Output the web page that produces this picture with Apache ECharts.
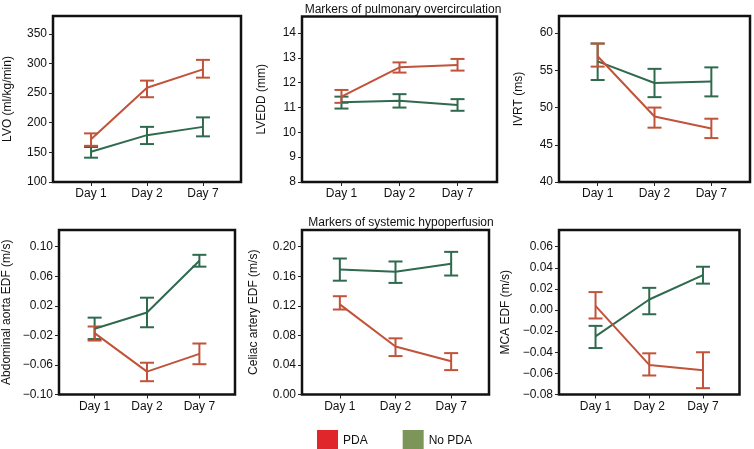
<!DOCTYPE html>
<html>
<head>
<meta charset="utf-8">
<script src="https://cdn.jsdelivr.net/npm/echarts@6/dist/echarts.min.js"></script>
<style>
  html,body{margin:0;padding:0;background:#fff;}
  #main{width:754px;height:449px;}
</style>
</head>
<body>
<div id="main"></div>
<script>
var days = ['Day 1', 'Day 2', 'Day 7'];

// LVO (ml/kg/min)
var lvoPda = [172, 259, 290];
var lvoPdaLo = [161, 243, 276];
var lvoPdaHi = [182, 271, 306];
var lvoNo = [151, 179, 193];
var lvoNoLo = [141, 164, 177];
var lvoNoHi = [159, 193, 209];
var lvoTicks = [100, 150, 200, 250, 300, 350];

// LVEDD (mm)
var lveddPda = [11.44, 12.62, 12.72];
var lveddPdaLo = [11.19, 12.41, 12.49];
var lveddPdaHi = [11.71, 12.82, 12.96];
var lveddNo = [11.21, 11.27, 11.10];
var lveddNoLo = [10.96, 11.00, 10.87];
var lveddNoHi = [11.44, 11.54, 11.34];
var lveddTicks = [8, 9, 10, 11, 12, 13, 14];

// IVRT (ms)
var ivrtPda = [56.9, 48.8, 47.2];
var ivrtPdaLo = [55.5, 47.3, 45.9];
var ivrtPdaHi = [58.6, 50.0, 48.5];
var ivrtNo = [56.2, 53.3, 53.5];
var ivrtNoLo = [53.7, 51.4, 51.5];
var ivrtNoHi = [58.6, 55.2, 55.4];
var ivrtTicks = [40, 45, 50, 55, 60];

// Abdominal aorta EDF (m/s)
var aortaPda = [-0.017, -0.069, -0.045];
var aortaPdaLo = [-0.027, -0.082, -0.059];
var aortaPdaHi = [-0.008, -0.057, -0.031];
var aortaNo = [-0.011, 0.011, 0.081];
var aortaNoLo = [-0.025, -0.009, 0.073];
var aortaNoHi = [0.004, 0.031, 0.089];
var aortaTicks = [-0.10, -0.06, -0.02, 0.02, 0.06, 0.10];

// Celiac artery EDF (m/s)
var celiacPda = [0.122, 0.065, 0.045];
var celiacPdaLo = [0.115, 0.052, 0.033];
var celiacPdaHi = [0.133, 0.076, 0.056];
var celiacNo = [0.169, 0.166, 0.177];
var celiacNoLo = [0.154, 0.151, 0.161];
var celiacNoHi = [0.184, 0.180, 0.193];
var celiacTicks = [0.00, 0.04, 0.08, 0.12, 0.16, 0.20];

// MCA EDF (m/s)
var mcaPda = [0.004, -0.052, -0.057];
var mcaPdaLo = [-0.008, -0.062, -0.074];
var mcaPdaHi = [0.017, -0.041, -0.040];
var mcaNo = [-0.025, 0.010, 0.033];
var mcaNoLo = [-0.036, -0.004, 0.025];
var mcaNoHi = [-0.015, 0.021, 0.041];
var mcaTicks = [-0.08, -0.06, -0.04, -0.02, 0.00, 0.02, 0.04, 0.06];

var redLine = '#c1533a', greenLine = '#2f6a4e';
var font = 'Liberation Sans, Arial, Helvetica, sans-serif';

var panels = [
  {name: 'LVO (ml/kg/min)', pda: [lvoPda, lvoPdaLo, lvoPdaHi], no: [lvoNo, lvoNoLo, lvoNoHi], ticks: lvoTicks, min: 100, max: 380, dec: 0,
    grid: {left: 53, top: 16, width: 188, height: 166}, gap: 39},
  {name: 'LVEDD (mm)', pda: [lveddPda, lveddPdaLo, lveddPdaHi], no: [lveddNo, lveddNoLo, lveddNoHi], ticks: lveddTicks, min: 8, max: 14.67, dec: 0,
    grid: {left: 302, top: 16.5, width: 195, height: 165.5}, gap: 34},
  {name: 'IVRT (ms)', pda: [ivrtPda, ivrtPdaLo, ivrtPdaHi], no: [ivrtNo, ivrtNoLo, ivrtNoHi], ticks: ivrtTicks, min: 40, max: 62.3, dec: 0,
    grid: {left: 559, top: 16, width: 191, height: 166}, gap: 34},
  {name: 'Abdominal aorta EDF (m/s)', pda: [aortaPda, aortaPdaLo, aortaPdaHi], no: [aortaNo, aortaNoLo, aortaNoHi], ticks: aortaTicks, min: -0.10, max: 0.1226, dec: 2,
    grid: {left: 53, top: 230, width: 182, height: 164.5}, gap: 46},
  {name: 'Celiac artery EDF (m/s)', pda: [celiacPda, celiacPdaLo, celiacPdaHi], no: [celiacNo, celiacNoLo, celiacNoHi], ticks: celiacTicks, min: 0, max: 0.2226, dec: 2,
    grid: {left: 302, top: 230, width: 187, height: 164.5}, gap: 42},
  {name: 'MCA EDF (m/s)', pda: [mcaPda, mcaPdaLo, mcaPdaHi], no: [mcaNo, mcaNoLo, mcaNoHi], ticks: mcaTicks, min: -0.08, max: 0.0758, dec: 2,
    grid: {left: 559, top: 230, width: 180.5, height: 164.5}, gap: 47}
];

function fmt(v, dec) {
  var s = (Math.abs(v) < 1e-9 ? 0 : v).toFixed(dec);
  return s.replace('-', '\u2212');
}

// error bar: vertical line plus two caps
function errRender(color) {
  return function (params, api) {
    var x = api.value(0);
    var top = api.coord([x, api.value(2)]);
    var bot = api.coord([x, api.value(1)]);
    var w = 7;
    var st = {stroke: color, lineWidth: 2, fill: null};
    return {
      type: 'group',
      children: [
        {type: 'line', shape: {x1: top[0], y1: top[1], x2: bot[0], y2: bot[1]}, style: st},
        {type: 'line', shape: {x1: top[0] - w, y1: top[1], x2: top[0] + w, y2: top[1]}, style: st},
        {type: 'line', shape: {x1: bot[0] - w, y1: bot[1], x2: bot[0] + w, y2: bot[1]}, style: st}
      ]
    };
  };
}

var grids = [], xAxes = [], yAxes = [], series = [];
panels.forEach(function (p, i) {
  grids.push({left: p.grid.left, top: p.grid.top, width: p.grid.width, height: p.grid.height,
    show: true, borderColor: '#111', borderWidth: 2.5, backgroundColor: 'transparent'});
  xAxes.push({
    type: 'value', gridIndex: i, min: 0.32, max: 3.68,
    splitLine: {show: false}, axisLine: {show: false, onZero: false},
    axisTick: {show: true, length: 4, customValues: [1, 2, 3], lineStyle: {color: '#222'}},
    axisLabel: {customValues: [1, 2, 3], margin: 6, fontSize: 12, color: '#111', fontFamily: font,
      formatter: function (v) { return days[Math.round(v) - 1]; }}
  });
  yAxes.push({
    type: 'value', gridIndex: i, min: p.min, max: p.max,
    name: p.name, nameLocation: 'middle', nameGap: p.gap,
    nameTextStyle: {fontSize: 12, color: '#111', fontFamily: font},
    splitLine: {show: false}, axisLine: {show: false, onZero: false},
    axisTick: {show: true, length: 4, customValues: p.ticks, lineStyle: {color: '#222'}},
    axisLabel: {customValues: p.ticks, margin: 6, fontSize: 12, color: '#111', fontFamily: font,
      formatter: (function (d) { return function (v) { return fmt(v, d); }; })(p.dec)}
  });
  [['No PDA', p.no, greenLine], ['PDA', p.pda, redLine]].forEach(function (g) {
    var mean = g[1][0], lo = g[1][1], hi = g[1][2];
    var lineData = [], errData = [];
    for (var k = 0; k < days.length; k++) {
      lineData.push([k + 1, mean[k]]);
      errData.push([k + 1, lo[k], hi[k]]);
    }
    series.push({
      name: g[0], type: 'line', xAxisIndex: i, yAxisIndex: i, data: lineData,
      showSymbol: false, symbol: 'none', lineStyle: {color: g[2], width: 2}, itemStyle: {color: g[2]},
      animation: false
    });
    series.push({
      type: 'custom', xAxisIndex: i, yAxisIndex: i, data: errData,
      renderItem: errRender(g[2]), encode: {x: 0, y: [1, 2]}, animation: false, silent: true
    });
  });
});

var chart = echarts.init(document.getElementById('main'));
chart.setOption({
  backgroundColor: '#fff',
  animation: false,
  title: [
    {text: 'Markers of pulmonary overcirculation', left: 398, top: -1, textAlign: 'center',
      textStyle: {fontSize: 12, fontWeight: 'normal', color: '#111', fontFamily: font}},
    {text: 'Markers of systemic hypoperfusion', left: 396, top: 212, textAlign: 'center',
      textStyle: {fontSize: 12, fontWeight: 'normal', color: '#111', fontFamily: font}}
  ],
  legend: {
    left: 312, top: 425, itemWidth: 21, itemHeight: 21, itemGap: 35, icon: 'rect',
    textStyle: {fontSize: 12, color: '#111', fontFamily: font},
    data: [
      {name: 'PDA', itemStyle: {color: '#e0262a', borderWidth: 0}},
      {name: 'No PDA', itemStyle: {color: '#7b9658', borderWidth: 0}}
    ],
    selectedMode: false
  },
  grid: grids,
  xAxis: xAxes,
  yAxis: yAxes,
  series: series
});
</script>
</body>
</html>
